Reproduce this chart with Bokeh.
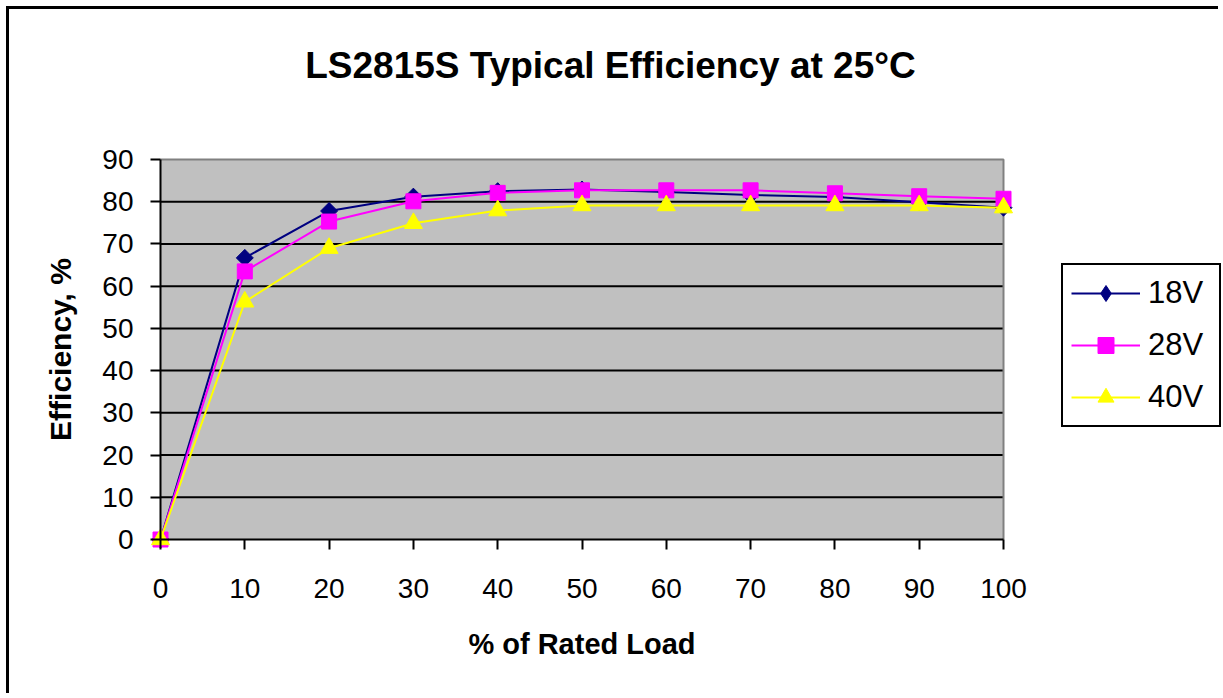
import numpy as np
from bokeh.plotting import figure
from bokeh.models import (Range1d, FixedTicker, Legend, LegendItem, Label)
from bokeh.embed import file_html
from bokeh.resources import INLINE

# ---- data ----
load = [0, 10, 20, 30, 40, 50, 60, 70, 80, 90, 100]
eff_18v = [0, 66.7, 77.8, 81.2, 82.5, 82.9, 82.3, 81.6, 81.1, 79.9, 78.6]
eff_28v = [0, 63.5, 75.3, 80.1, 82.1, 82.7, 82.7, 82.7, 82.0, 81.3, 80.7]
eff_40v = [0, 56.3, 69.0, 74.9, 77.9, 79.1, 79.1, 79.1, 79.1, 79.1, 78.6]
series_names = ["18V", "28V", "40V"]
x_ticks = [0, 10, 20, 30, 40, 50, 60, 70, 80, 90, 100]
y_ticks = [0, 10, 20, 30, 40, 50, 60, 70, 80, 90]
title_text = "LS2815S Typical Efficiency at 25°C"
x_label = "% of Rated Load"
y_label = "Efficiency, %"

X_MIN, X_MAX = x_ticks[0], x_ticks[-1]
Y_MIN, Y_MAX = y_ticks[0], y_ticks[-1]

FONT = "Liberation Sans"

# ---- layout (page pixels) ----
CANVAS_X0, CANVAS_Y0 = 9, 9           # after css margin + border
W, H = 1212, 687
AX_LEFT, AX_RIGHT = 160, 1003          # page x of X_MIN / X_MAX
AX_BOTTOM, AX_TOP = 539, 159           # page y of Y_MIN / Y_MAX
FR_LEFT, FR_RIGHT = CANVAS_X0, CANVAS_X0 + W
FR_TOP, FR_BOTTOM = CANVAS_Y0, CANVAS_Y0 + H

kx = (AX_RIGHT - AX_LEFT) / (X_MAX - X_MIN)
ky = (AX_BOTTOM - AX_TOP) / (Y_MAX - Y_MIN)
x_range = Range1d(X_MIN + (FR_LEFT - AX_LEFT) / kx, X_MIN + (FR_RIGHT - AX_LEFT) / kx)
y_range = Range1d(Y_MIN + (AX_BOTTOM - FR_BOTTOM) / ky, Y_MIN + (AX_BOTTOM - FR_TOP) / ky)

p = figure(width=W, height=H, output_backend="svg", toolbar_location=None,
           x_range=x_range, y_range=y_range,
           min_border_left=0, min_border_right=0,
           min_border_top=0, min_border_bottom=0)
p.styles = {"border-left": "3px solid black", "border-top": "3px solid black",
            "margin-left": "6px", "margin-top": "6px"}

p.background_fill_color = "white"
p.border_fill_color = "white"
p.outline_line_color = None
p.grid.visible = False

# plot area background, grid and outline
p.quad(left=X_MIN, right=X_MAX, bottom=Y_MIN, top=Y_MAX,
       fill_color="#C0C0C0", line_color=None, level="image")
grid_ticks = y_ticks[1:-1]
p.segment(x0=[X_MIN] * len(grid_ticks), x1=[X_MAX] * len(grid_ticks),
          y0=grid_ticks, y1=grid_ticks, line_color="black", line_width=2,
          level="underlay")
p.line([X_MIN, X_MAX, X_MAX], [Y_MAX, Y_MAX, Y_MIN], line_color="#808080",
       line_width=2, level="underlay")

# axes
for ax in (p.xaxis[0], p.yaxis[0]):
    ax.fixed_location = 0
    ax.axis_line_color = "black"
    ax.axis_line_width = 2
    ax.major_tick_line_color = "black"
    ax.major_tick_line_width = 2
    ax.major_tick_out = 10
    ax.major_tick_in = 0
    ax.minor_tick_line_color = None
    ax.major_label_text_font = FONT
    ax.major_label_text_font_size = "28px"
    ax.major_label_text_color = "black"
    ax.axis_label_text_font = FONT
    ax.axis_label_text_font_style = "bold"
    ax.axis_label_text_color = "black"

p.xaxis.bounds = (X_MIN, X_MAX)
p.yaxis.bounds = (Y_MIN, Y_MAX)
p.xaxis.ticker = FixedTicker(ticks=x_ticks)
p.yaxis.ticker = FixedTicker(ticks=y_ticks)
p.xaxis.axis_label = x_label
p.yaxis.axis_label = y_label
p.xaxis.axis_label_text_font_size = "29px"
p.yaxis.axis_label_text_font_size = "30px"
p.xaxis.major_label_standoff = 29
p.yaxis.major_label_standoff = 17
p.xaxis.axis_label_standoff = 27
p.yaxis.axis_label_standoff = 22

# series
s18_key = p.scatter(load, eff_18v, marker="diamond", size=16,
                    fill_color="#000080", line_color="#000080")
l18 = p.line(load, eff_18v, line_color="#000080", line_width=2)
s18 = p.scatter(load, eff_18v, marker="square", angle=np.pi / 4, size=12,
                fill_color="#000080", line_color="#000080")
l28 = p.line(load, eff_28v, line_color="#FF00FF", line_width=2)
s28 = p.scatter(load, eff_28v, marker="square", size=15,
                fill_color="#FF00FF", line_color="#FF00FF")
l40 = p.line(load, eff_40v, line_color="#FFFF00", line_width=2)
s40 = p.scatter(load, eff_40v, marker="triangle", size=18,
                fill_color="#FFFF00", line_color="#FFFF00")

legend = Legend(items=[
    LegendItem(label=series_names[0], renderers=[l18, s18_key]),
    LegendItem(label=series_names[1], renderers=[l28, s28]),
    LegendItem(label=series_names[2], renderers=[l40, s40]),
], location=(1061 - FR_LEFT, FR_BOTTOM - 427))
legend.label_text_font = FONT
legend.label_text_font_size = "31px"
legend.label_text_color = "black"
legend.border_line_color = "black"
legend.border_line_alpha = 1
legend.border_line_width = 2
legend.background_fill_color = "white"
legend.background_fill_alpha = 1
legend.padding = 8
legend.margin = 0
legend.spacing = 12
legend.glyph_width = 69
legend.glyph_height = 40
legend.label_height = 40
legend.label_width = 63
legend.label_standoff = 8
p.add_layout(legend)

title = Label(x=610 - FR_LEFT, y=FR_BOTTOM - 65, x_units="screen", y_units="screen",
              text=title_text, text_font=FONT, text_font_size="37px",
              text_font_style="bold", text_align="center",
              text_baseline="alphabetic", text_color="black")
p.add_layout(title)

open("out.html", "w").write(file_html(p, INLINE))
